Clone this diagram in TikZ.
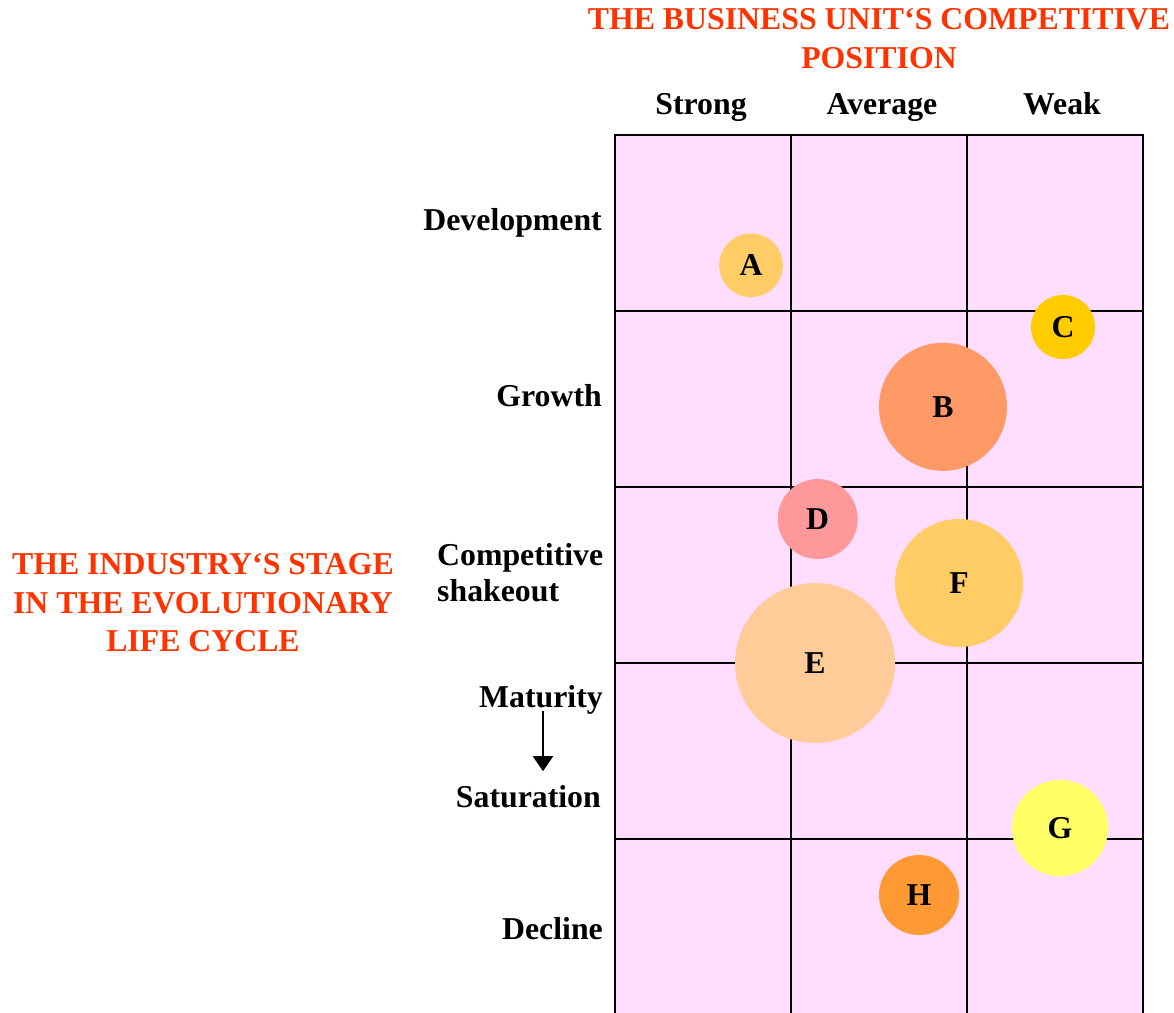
\documentclass[tikz,border=0pt]{standalone}
\usepackage{fontspec}
\setmainfont{Liberation Serif}
\usetikzlibrary{arrows.meta}

\definecolor{titlered}{HTML}{FF3300}
\definecolor{cellpink}{HTML}{FFDDFF}
\definecolor{cA}{HTML}{FFCC66}
\definecolor{cB}{HTML}{FF9966}
\definecolor{cC}{HTML}{FFCC00}
\definecolor{cD}{HTML}{FF9999}
\definecolor{cE}{HTML}{FFCC99}
\definecolor{cF}{HTML}{FFCC66}
\definecolor{cG}{HTML}{FFFF66}
\definecolor{cH}{HTML}{FF9933}

\tikzset{
  lbl/.style={font=\bfseries\fontsize{31.8}{36}\selectfont, inner sep=0pt},
  ttl/.style={font=\bfseries\fontsize{31.8}{38.5}\selectfont, inner sep=0pt,
              text=titlered, align=center},
  gridline/.style={line width=2.8pt, black},
  bubble/.style={circle, inner sep=0pt, minimum size=#1,
                 font=\bfseries\fontsize{31.8}{36}\selectfont},
  flow/.style={line width=2pt, -{Triangle[length=15pt,width=20pt]}}
}

\begin{document}
\begin{tikzpicture}[x=1pt,y=-1pt]
\useasboundingbox (0,0) rectangle (1174,1012);
\clip (0,0) rectangle (1174,1012);

% axis titles
\node[ttl, anchor=north] (toptitle) at (879,8.6)
  {THE BUSINESS UNIT‘S COMPETITIVE\\POSITION};
\node[ttl, anchor=north] (sidetitle) at (203,553.6)
  {THE INDUSTRY‘S STAGE\\IN THE EVOLUTIONARY\\LIFE CYCLE};

% column headings
\node[lbl, anchor=base] (strong)  at (701,114.3) {Strong};
\node[lbl, anchor=base] (average) at (882,114.3) {Average};
\node[lbl, anchor=base] (weak)    at (1062,114.3) {Weak};

% row headings
\node[lbl, anchor=base east] (dev)  at (602,230.7) {Development};
\node[lbl, anchor=base east] (grow) at (602,406) {Growth};
\node[lbl, anchor=north west, align=left] (shake) at (437,543.5)
  {Competitive\\shakeout};
\node[lbl, anchor=base east] (mat)  at (603,707.3) {Maturity};
\node[lbl, anchor=base east] (sat)  at (601,807) {Saturation};
\node[lbl, anchor=base east] (dec)  at (603,939.3) {Decline};

\coordinate (arrx) at (543,0);
\draw[flow, shorten <=-3pt, shorten >=13.5pt] (mat.south -| arrx) -- (sat.north -| arrx);

% matrix cells
\fill[cellpink] (615,135) rectangle (1143,1030);
\foreach \x in {615,791,967,1143}
  \draw[gridline] (\x,133.6) -- (\x,1030);
\foreach \y in {135,311,487,663,839}
  \draw[gridline] (613.6,\y) -- (1144.4,\y);

% business units
\node[bubble=63.6, fill=cA] (A) at (751,265.3) {A};
\node[bubble=64,   fill=cC] (C) at (1063,327) {C};
\node[bubble=128,  fill=cB] (B) at (943,406.8) {B};
\node[bubble=80,   fill=cD] (D) at (817.7,519) {D};
\node[bubble=128,  fill=cF] (F) at (959,583) {F};
\node[bubble=160,  fill=cE] (E) at (815,663) {E};
\node[bubble=96,   fill=cG] (G) at (1060,828) {G};
\node[bubble=80,   fill=cH] (H) at (919,895) {H};
\end{tikzpicture}
\end{document}
